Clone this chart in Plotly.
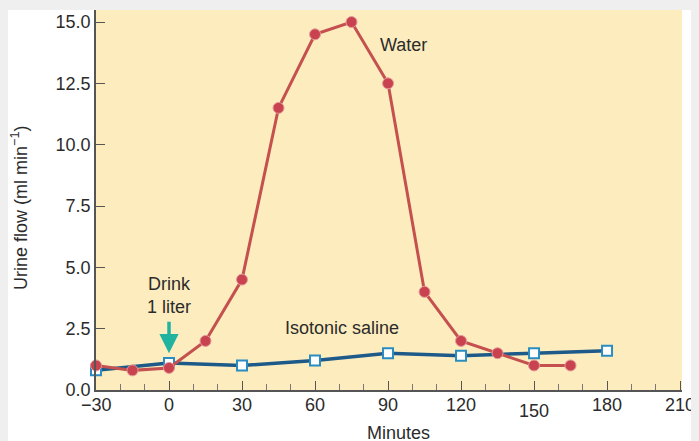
import plotly.graph_objects as go

water_x = [-30, -15, 0, 15, 30, 45, 60, 75, 90, 105, 120, 135, 150, 165]
water_y = [1.0, 0.8, 0.9, 2.0, 4.5, 11.5, 14.5, 15.0, 12.5, 4.0, 2.0, 1.5, 1.0, 1.0]
saline_x = [-30, 0, 30, 60, 90, 120, 150, 180]
saline_y = [0.8, 1.1, 1.0, 1.2, 1.5, 1.4, 1.5, 1.6]
x_ticks = [-30, 0, 30, 60, 90, 120, 150, 180, 210]
x_tick_labels = ["\u221230", "0", "30", "60", "90", "120", "150", "180", "210"]
y_ticks = [0, 2.5, 5.0, 7.5, 10.0, 12.5, 15.0]
y_tick_labels = ["0.0", "2.5", "5.0", "7.5", "10.0", "12.5", "15.0"]

TXT = "#2b2b2b"
FONT = "Liberation Sans, Arial, sans-serif"
FS = 18

fig = go.Figure()
fig.add_trace(go.Scatter(
    x=saline_x, y=saline_y, mode="lines+markers", name="Isotonic saline",
    line=dict(color="#1d5a8a", width=3.5),
    marker=dict(symbol="square", size=10, color="white",
                line=dict(color="#2a8cc0", width=2)),
    cliponaxis=False))
fig.add_trace(go.Scatter(
    x=water_x, y=water_y, mode="lines+markers", name="Water",
    line=dict(color="#c4514f", width=3),
    marker=dict(symbol="circle", size=11, color="#c8434f",
                line=dict(color="#e59a9a", width=1)),
    cliponaxis=False))

# x tick labels as annotations (150 sits slightly lower)
for v, t in zip(x_ticks, x_tick_labels):
    fig.add_annotation(x=v, y=0, xref="x", yref="y", text=t, showarrow=False,
                       yanchor="middle", yshift=-(21 if v == 150 else 15),
                       font=dict(family=FONT, size=FS, color=TXT))

fig.add_annotation(x=86.0, y=14.06, text="Water", showarrow=False, xanchor="left",
                   font=dict(family=FONT, size=FS, color=TXT))
fig.add_annotation(x=0, y=3.85, text="Drink<br>1 liter", showarrow=False,
                   font=dict(family=FONT, size=FS, color=TXT))
fig.add_annotation(x=0, y=1.5, ax=0, ay=-33, text="", showarrow=True,
                   arrowhead=2, arrowsize=1.1, arrowwidth=3.5, arrowcolor="#1fb3a0")
fig.add_annotation(x=71.2, y=2.53, text="Isotonic saline", showarrow=False,
                   font=dict(family=FONT, size=FS, color=TXT))
fig.add_annotation(x=0, y=0, xref="x", yref="paper", text="Minutes",
                   showarrow=False, xshift=229, yshift=-43, yanchor="middle",
                   font=dict(family=FONT, size=FS, color=TXT))
fig.add_annotation(x=0, y=0.5, xref="paper", yref="paper",
                   text="Urine flow (ml min<sup>\u22121</sup>)", textangle=-90,
                   showarrow=False, xanchor="center", yanchor="middle", xshift=-77,
                   yshift=-8,
                   font=dict(family=FONT, size=18, color=TXT))

# thin grey strip at the very top
fig.add_shape(type="rect", xref="paper", yref="paper", x0=-0.2, x1=1.1,
              y0=1.0, y1=1.03, fillcolor="#efefef", line_width=0, layer="below")

fig.update_layout(
    width=699, height=441,
    margin=dict(l=88, r=25, t=2, b=59, pad=0),
    paper_bgcolor="white", plot_bgcolor="#fdedbe",
    showlegend=False,
    font=dict(family=FONT, size=FS, color=TXT),
    xaxis=dict(range=[-30, 210.8], tickvals=x_ticks, showticklabels=False,
               ticks="inside", ticklen=9, tickcolor="#555", tickwidth=1,
               showline=True, linecolor="#555", linewidth=1.5,
               showgrid=False, zeroline=False,
               minor=dict(dtick=10, tick0=0, ticks="inside", ticklen=6,
                          tickcolor="#777", showgrid=False)),
    yaxis=dict(range=[0, 15.49], tickvals=y_ticks, ticktext=y_tick_labels,
               ticks="inside", ticklen=9, tickcolor="#555", tickwidth=1,
               showline=True, linecolor="#555", linewidth=1.5,
               showgrid=False, zeroline=False,
               tickfont=dict(family=FONT, size=FS, color=TXT)),
)

fig.write_html("out.html", post_script="document.body.style.background='#efefef';")
